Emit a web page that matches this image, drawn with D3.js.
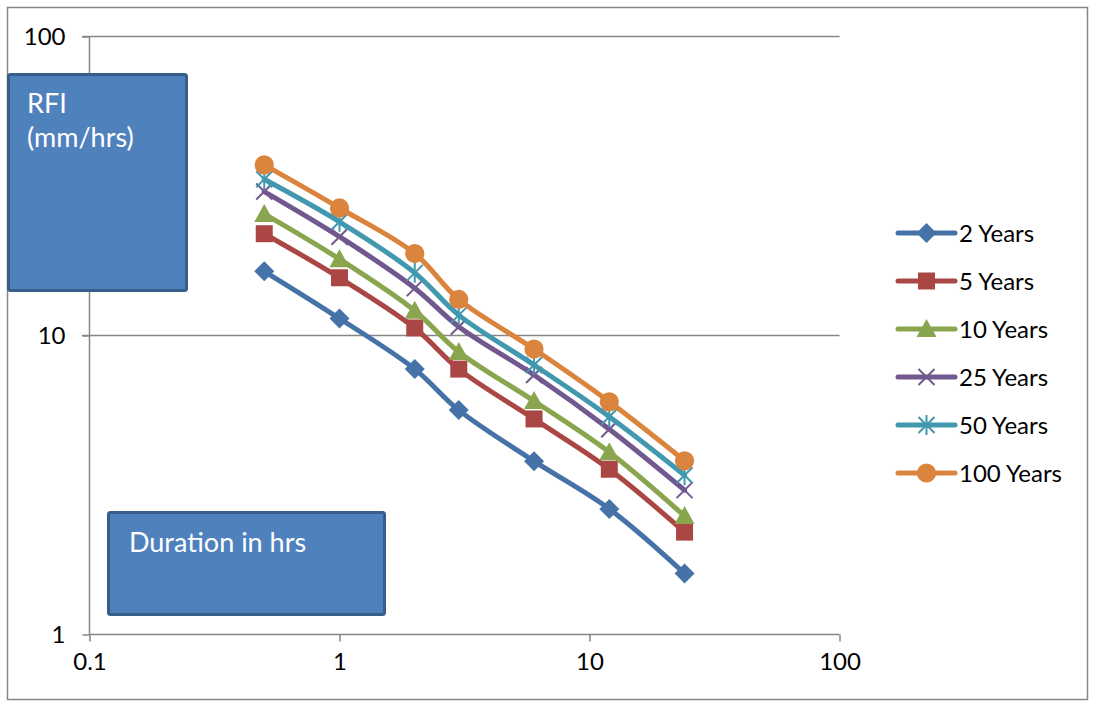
<!DOCTYPE html>
<html>
<head>
    <meta charset="utf-8">
    <title>RFI vs Duration</title>
    <style>
        body { margin: 0; background: #fff; }
        text { font-family: Lato, "Noto Sans", sans-serif; }
    </style>
</head>
<body>
<div id="chart"></div>
<script src="https://cdn.jsdelivr.net/npm/d3@7"></script>
<script>

    // durations (hrs) on the x axis
    let durations = [0.5, 1, 2, 3, 6, 12, 24];

    // rainfall intensity (mm/hrs) per return period
    let rfi2   = [16.4, 11.4, 7.72, 5.63, 3.80, 2.63, 1.60];
    let rfi5   = [21.9, 15.6, 10.6, 7.72, 5.26, 3.57, 2.20];
    let rfi10  = [25.5, 18.0, 12.1, 8.81, 6.04, 4.07, 2.49];
    let rfi25  = [30.3, 21.4, 14.4, 10.7, 7.38, 4.86, 3.04];
    let rfi50  = [33.3, 24.0, 16.2, 11.7, 7.97, 5.35, 3.41];
    let rfi100 = [37.2, 26.7, 18.8, 13.2, 9.01, 6.00, 3.81];

    let seriesNames = ['2 Years', '5 Years', '10 Years', '25 Years', '50 Years', '100 Years'];
    let seriesValues = [rfi2, rfi5, rfi10, rfi25, rfi50, rfi100];

    let xTicks = [0.1, 1, 10, 100];
    let yTicks = [1, 10, 100];

    let colors = ['#4572A7', '#AA4643', '#89A54E', '#71588F', '#4198AF', '#DB843D'];
    let markers = ['diamond', 'square', 'triangle', 'cross', 'star', 'circle'];

    function translate(x, y) {
      return 'translate(' + x + ', ' + y + ')';
    }

    let svgWidth = 1093;
    let svgHeight = 702;

    let svg = d3.select('#chart')
      .append('svg')
        .attr('width', svgWidth)
        .attr('height', svgHeight);

    // outer chart border
    svg.append('rect')
      .attr('x', 7.5).attr('y', 7.5)
      .attr('width', 1080).attr('height', 692)
      .attr('fill', '#fff')
      .attr('stroke', '#868686')
      .attr('stroke-width', 1.5);

    let x = d3.scaleLog().domain([0.1, 100]).range([89.5, 839.5]);
    let y = d3.scaleLog().domain([1, 100]).range([634.5, 36.5]);

    // gridlines
    svg.append('g')
      .selectAll('line')
      .data(yTicks.filter(d => d > 1))
      .enter()
      .append('line')
        .attr('x1', 82).attr('x2', x(100))
        .attr('y1', d => y(d)).attr('y2', d => y(d))
        .attr('stroke', '#868686')
        .attr('stroke-width', 1.5);

    let xAxis = d3.axisBottom(x).tickValues(xTicks).tickFormat(d => d).tickSize(7).tickPadding(11);
    let yAxis = d3.axisLeft(y).tickValues(yTicks).tickFormat(d => d).tickSize(7).tickPadding(17);

    let gx = svg.append('g').attr('transform', translate(0, y(1))).call(xAxis);
    let gy = svg.append('g').attr('transform', translate(x(0.1), 0)).call(yAxis);

    [gx, gy].forEach(function(g) {
        g.select('.domain').attr('stroke', '#868686').attr('stroke-width', 1.5);
        g.selectAll('.tick line').attr('stroke', '#868686').attr('stroke-width', 1.5);
        g.selectAll('.tick text')
          .attr('fill', '#000')
          .style('font-size', '24px')
          .style('font-family', 'Lato, sans-serif');
    });
    gy.select('.domain').attr('d', 'M0,' + y(100) + 'V' + y(1));
    gx.select('.domain').attr('d', 'M' + x(0.1) + ',0H' + x(100));

    function markerPath(type) {
        if (type === 'diamond') return 'M0,-10L10,0L0,10L-10,0Z';
        if (type === 'square') return 'M-8.5,-8.5H8.5V8.5H-8.5Z';
        if (type === 'triangle') return 'M0,-10L10,8L-10,8Z';
        if (type === 'cross') return 'M-8,-8L8,8M-8,8L8,-8';
        if (type === 'star') return 'M-8,-8L8,8M-8,8L8,-8M0,-10V10';
        return d3.symbol(d3.symbolCircle, 290)();
    }

    function drawMarker(g, type, color) {
        let open = (type === 'cross' || type === 'star');
        g.append('path')
          .attr('d', markerPath(type))
          .attr('fill', open ? 'none' : color)
          .attr('stroke', color)
          .attr('stroke-width', open ? 2 : 0);
    }

    let line = d3.line()
      .x(d => x(d[0]))
      .y(d => y(d[1]))
      .curve(d3.curveCatmullRom.alpha(0.5));

    seriesValues.forEach(function(vals, i) {
        let pts = durations.map((d, j) => [d, vals[j]]);
        svg.append('path')
          .attr('d', line(pts))
          .attr('fill', 'none')
          .attr('stroke', colors[i])
          .attr('stroke-width', 5)
          .attr('stroke-linejoin', 'round')
          .attr('stroke-linecap', 'round');

        pts.forEach(function(p) {
            let g = svg.append('g').attr('transform', translate(x(p[0]), y(p[1])));
            drawMarker(g, markers[i], colors[i]);
        });
    });

    // legend
    let legend = svg.selectAll('.legend')
      .data(seriesNames)
      .enter()
      .append('g')
        .attr('class', 'legend')
        .attr('transform', (d, i) => translate(898, 233 + i * 48));

    legend.append('line')
      .attr('x1', 0).attr('x2', 57)
      .attr('stroke', (d, i) => colors[i])
      .attr('stroke-width', 5)
      .attr('stroke-linecap', 'round');

    legend.each(function(d, i) {
        let g = d3.select(this).append('g').attr('transform', translate(28.5, 0));
        drawMarker(g, markers[i], colors[i]);
    });

    legend.append('text')
      .attr('x', 61)
      .attr('dy', '0.36em')
      .style('font-size', '24px')
      .attr('fill', '#000')
      .text(d => d);

    // text boxes
    svg.append('rect')
      .attr('x', 8.5).attr('y', 74.5)
      .attr('width', 178).attr('height', 216)
      .attr('rx', 2)
      .attr('fill', '#4F81BD')
      .attr('stroke', '#385D8A')
      .attr('stroke-width', 3);

    svg.append('text')
      .attr('x', 27).attr('y', 113)
      .attr('fill', '#fff')
      .style('font-size', '27px')
      .text('RFI');
    svg.append('text')
      .attr('x', 27).attr('y', 147)
      .attr('fill', '#fff')
      .style('font-size', '27px')
      .text('(mm/hrs)');

    svg.append('rect')
      .attr('x', 108.5).attr('y', 512.5)
      .attr('width', 276).attr('height', 102)
      .attr('rx', 2)
      .attr('fill', '#4F81BD')
      .attr('stroke', '#385D8A')
      .attr('stroke-width', 3);

    svg.append('text')
      .attr('x', 129).attr('y', 552)
      .attr('fill', '#fff')
      .style('font-size', '27px')
      .text('Duration in hrs');

</script>
</body>
</html>
